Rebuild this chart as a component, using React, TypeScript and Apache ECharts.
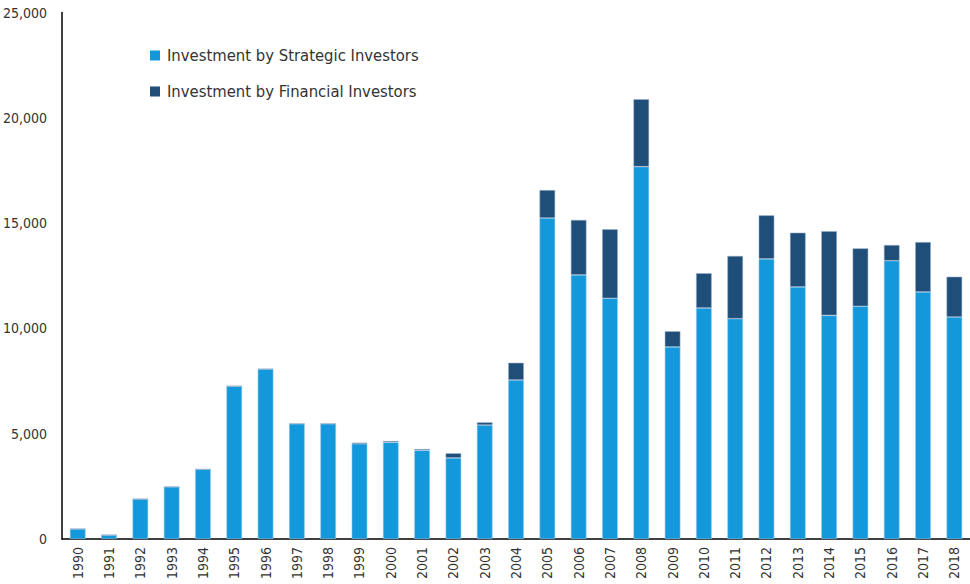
import React, { useEffect, useRef } from "react";
import * as echarts from "echarts";

const years = ["1990","1991","1992","1993","1994","1995","1996","1997","1998","1999","2000","2001","2002","2003","2004","2005","2006","2007","2008","2009","2010","2011","2012","2013","2014","2015","2016","2017","2018"];
const strategic = [480, 190, 1900, 2480, 3310, 7260, 8070, 5475, 5475, 4520, 4590, 4210, 3850, 5410, 7550, 15240, 12540, 11430, 17680, 9120, 10970, 10460, 13300, 11970, 10620, 11050, 13215, 11730, 10540];
const financial = [0, 0, 0, 0, 0, 0, 0, 0, 0, 55, 60, 60, 220, 130, 820, 1330, 2610, 3275, 3200, 745, 1650, 2980, 2070, 2575, 4000, 2750, 745, 2370, 1915];
const yTicks = [0, 5000, 10000, 15000, 20000, 25000];

const FONT = "'Liberation Sans Narrow', 'Arial Narrow', 'DejaVu Sans Condensed', sans-serif";

export default function App() {
  const ref = useRef<HTMLDivElement>(null);
  useEffect(() => {
    if (!ref.current) return;
    const chart = echarts.init(ref.current, undefined, { renderer: "svg" });
    chart.setOption({
      animation: false,
      backgroundColor: "#ffffff",
      grid: { left: 62, right: 0, top: 12.5, bottom: 45, containLabel: false },
      legend: {
        orient: "vertical",
        left: 145,
        top: 42,
        itemWidth: 10,
        itemHeight: 10,
        itemGap: 19,
        icon: "rect",
        itemStyle: { borderWidth: 0 },
        textStyle: { fontFamily: FONT, fontSize: 16.5, color: "#333333", padding: [0, 0, 0, 2] },
        data: ["Investment by Strategic Investors", "Investment by Financial Investors"],
      },
      xAxis: {
        type: "category",
        data: years,
        axisLine: { show: true, lineStyle: { color: "#000000", width: 1.5 } },
        axisTick: { show: false },
        axisLabel: {
          rotate: 90,
          interval: 0,
          margin: 8,
          fontFamily: FONT,
          fontSize: 14,
          color: "#333333",
        },
      },
      yAxis: {
        type: "value",
        min: 0,
        max: 25000,
        interval: 5000,
        splitLine: { show: false },
        axisLine: { show: true, lineStyle: { color: "#000000", width: 1.5 } },
        axisTick: { show: false },
        axisLabel: {
          margin: 15,
          fontFamily: FONT,
          fontSize: 14,
          color: "#333333",
          formatter: (v: number) => (yTicks.includes(v) ? v.toLocaleString("en-US") : ""),
        },
      },
      series: [
        {
          name: "Investment by Strategic Investors",
          type: "bar",
          stack: "total",
          data: strategic,
          barWidth: "50%",
          itemStyle: { color: "#1399DB", borderColor: "rgba(150,200,235,0.9)", borderWidth: 0.6 },
        },
        {
          name: "Investment by Financial Investors",
          type: "bar",
          stack: "total",
          data: financial,
          barWidth: "50%",
          itemStyle: { color: "#1F4E79", borderColor: "rgba(150,175,200,0.9)", borderWidth: 0.6 },
        },
      ],
    });
    return () => chart.dispose();
  }, []);
  return <div ref={ref} style={{ width: 970, height: 584, position: "absolute", left: 0, top: 0 }} />;
}
